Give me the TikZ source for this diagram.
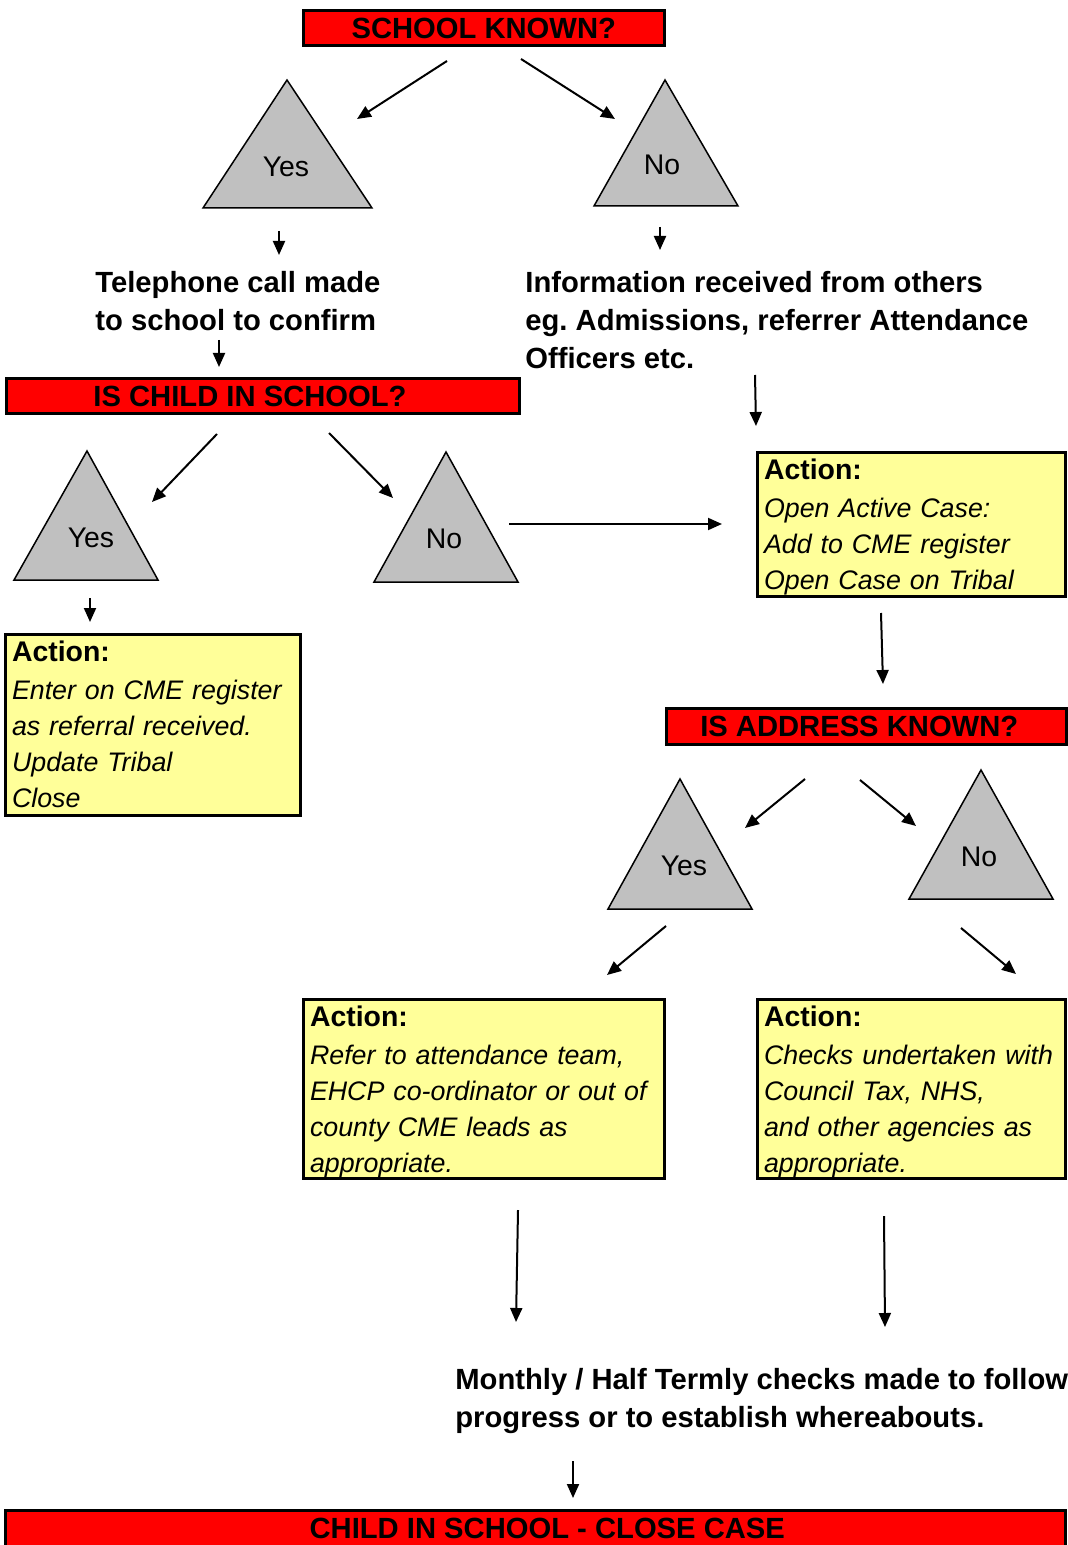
\documentclass[tikz,border=0pt]{standalone}
\usepackage{fontspec}
\setmainfont{Liberation Sans}
\usetikzlibrary{arrows.meta}

\definecolor{actyellow}{HTML}{FFFF99}
\definecolor{trigray}{HTML}{C0C0C0}
\frenchspacing

\tikzset{
  redbox/.style={draw,line width=1.5pt,fill=red,inner sep=0pt,outer sep=0pt,anchor=north west,
    minimum height=17.75pt,font=\fontsize{14.6}{17}\selectfont\bfseries},
  actbox/.style={draw,line width=1.5pt,fill=actyellow,inner xsep=3.25pt,inner ysep=0pt,outer sep=0pt,
    anchor=north west,align=left,text height=13.5pt,font=\fontsize{13.4}{18}\selectfont},
  note/.style={anchor=north west,align=left,inner sep=0pt,font=\fontsize{14.6}{19}\selectfont\bfseries},
  tri/.style={draw,fill=trigray,line width=0.75pt},
  trilab/.style={inner sep=0pt,font=\fontsize{14.2}{17}\selectfont},
  arr/.style={-{Triangle[length=7pt,width=6pt]},line width=1pt}
}
\newcommand{\acttitle}{{\fontsize{14.2}{18}\selectfont\bfseries Action:}\\[1pt]}

\begin{document}
\begin{tikzpicture}[x=0.5pt,y=-0.5pt]
\useasboundingbox (0,0) rectangle (1068,1545);
\clip (0,0) rectangle (1068,1545);

% questions
\node[redbox,minimum width=180.25pt] (known) at (303.5,10.5) {SCHOOL KNOWN?};
\node[redbox,minimum width=256.25pt] (child) at (6.5,378.5) {\hspace*{-12.75pt}IS CHILD IN SCHOOL?};
\node[redbox,minimum width=199.75pt] (addr) at (666.5,708.5) {\hspace*{-7pt}IS ADDRESS KNOWN?};
\node[redbox,minimum width=529.75pt] (close) at (5.5,1510.5) {\hspace*{12pt}CHILD IN SCHOOL - CLOSE CASE};

% answers
\draw[tri] (203,208)--(287,80)--(372,208)--cycle;
\node[trilab] (yes1) at (286,167) {Yes};
\draw[tri] (594,206)--(665,80)--(738,206)--cycle;
\node[trilab] (no1) at (662,165) {No};
\draw[tri] (14,580)--(87,451)--(158,580)--cycle;
\node[trilab] (yes2) at (91,538) {Yes};
\draw[tri] (374,582)--(446,452)--(518,582)--cycle;
\node[trilab] (no2) at (444,539) {No};
\draw[tri] (608,909)--(680,779)--(752,909)--cycle;
\node[trilab] (yes3) at (684,866) {Yes};
\draw[tri] (909,899)--(981,770)--(1053,899)--cycle;
\node[trilab] (no3) at (979,857) {No};

% notes
\node[note] (tel) at (95,271) {Telephone call made\\to school to confirm};
\node[note] (info) at (525,271) {Information received from others\\eg. Admissions, referrer Attendance\\Officers etc.};
\node[note] (monthly) at (455,1368) {Monthly / Half Termly checks made to follow\\progress or to establish whereabouts.};

% actions
\node[actbox,text width=147.25pt,text depth=58.5pt] (open) at (757.5,452.5)
  {\acttitle\textit{Open Active Case:}\\\textit{Add to CME register}\\\textit{Open Case on Tribal}};
\node[actbox,text width=141pt,text depth=77pt] (enter) at (5.5,634.5)
  {\acttitle\textit{Enter on CME register}\\\textit{as referral received.}\\\textit{Update Tribal}\\\textit{Close}};
\node[actbox,text width=173.75pt,text depth=76.2pt] (refer) at (303.5,999.5)
  {\acttitle\textit{Refer to attendance team,}\\\textit{EHCP co-ordinator or out of}\\\textit{county CME leads as}\\\textit{appropriate.}};
\node[actbox,text width=147.25pt,text depth=76.2pt] (checks) at (757.5,999.5)
  {\acttitle\textit{Checks undertaken with}\\\textit{Council Tax, NHS,}\\\textit{and other agencies as}\\\textit{appropriate.}};

% arrow ends
\coordinate (knownL) at (447,61);   \coordinate (yes1In) at (357,119);
\coordinate (knownR) at (521,59);   \coordinate (no1In) at (615,119);
\coordinate (yes1Out) at (279,231); \coordinate (telIn) at (279,255);
\coordinate (no1Out) at (660,227);  \coordinate (infoIn) at (660,250);
\coordinate (telOut) at (219,340);  \coordinate (childIn) at (219,367);
\coordinate (infoOut) at (755,375); \coordinate (openIn) at (756,426);
\coordinate (childL) at (217,434);  \coordinate (yes2In) at (152,502);
\coordinate (childR) at (329,433);  \coordinate (no2In) at (393,498);
\coordinate (no2Out) at (509,524);  \coordinate (openW) at (722,524);
\coordinate (yes2Out) at (90,598);  \coordinate (enterIn) at (90,622);
\coordinate (openOut) at (881,613); \coordinate (addrIn) at (883,684);
\coordinate (addrL) at (805,779);   \coordinate (yes3In) at (745,828);
\coordinate (addrR) at (860,780);   \coordinate (no3In) at (916,826);
\coordinate (yes3Out) at (666,926); \coordinate (referIn) at (607,975);
\coordinate (no3Out) at (961,928);  \coordinate (checksIn) at (1016,974);
\coordinate (referOut) at (518,1210); \coordinate (monthlyL) at (516,1322);
\coordinate (checksOut) at (884,1216); \coordinate (monthlyR) at (885,1327);
\coordinate (monthlyOut) at (573,1461); \coordinate (closeIn) at (573,1498);

\draw[arr] (knownL)--(yes1In);
\draw[arr] (knownR)--(no1In);
\draw[arr] (yes1Out)--(telIn);
\draw[arr] (no1Out)--(infoIn);
\draw[arr] (telOut)--(childIn);
\draw[arr] (infoOut)--(openIn);
\draw[arr] (childL)--(yes2In);
\draw[arr] (childR)--(no2In);
\draw[arr] (no2Out)--(openW);
\draw[arr] (yes2Out)--(enterIn);
\draw[arr] (openOut)--(addrIn);
\draw[arr] (addrL)--(yes3In);
\draw[arr] (addrR)--(no3In);
\draw[arr] (yes3Out)--(referIn);
\draw[arr] (no3Out)--(checksIn);
\draw[arr] (referOut)--(monthlyL);
\draw[arr] (checksOut)--(monthlyR);
\draw[arr] (monthlyOut)--(closeIn);
\end{tikzpicture}
\end{document}
